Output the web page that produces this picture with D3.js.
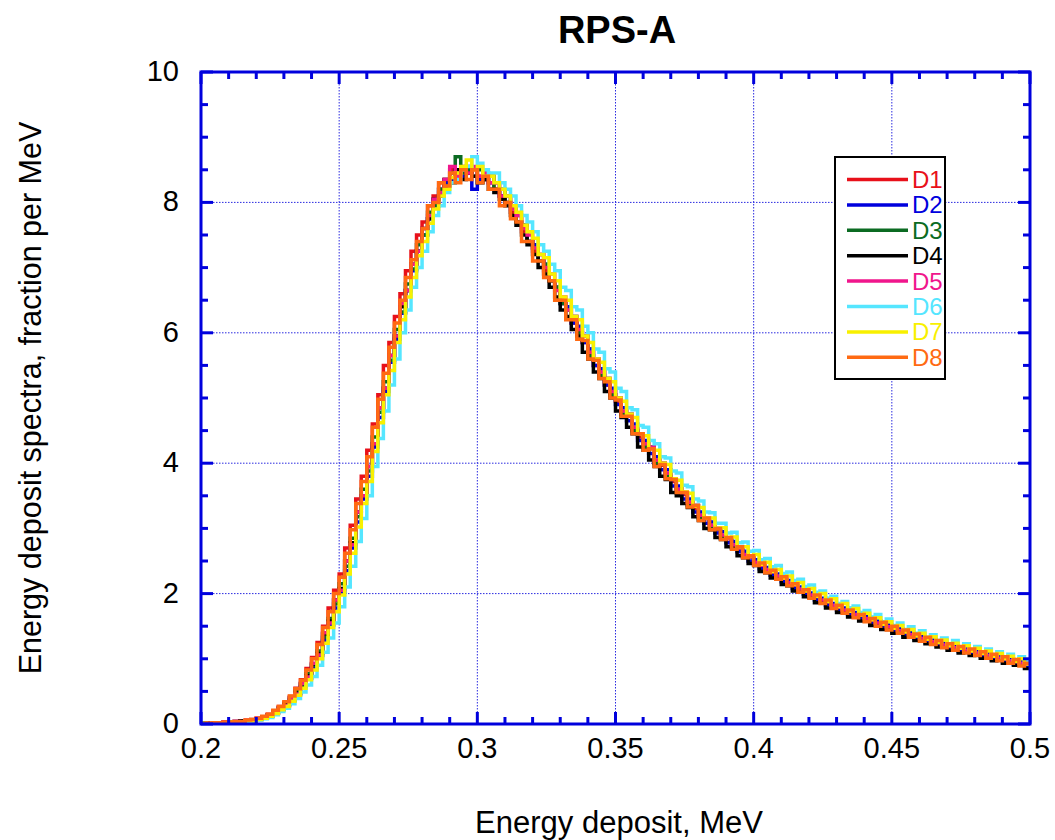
<!DOCTYPE html>
<html>
<head>
<meta charset="utf-8">
<title>RPS-A</title>
<script src="https://cdn.jsdelivr.net/npm/d3@7"></script>
<style>
  body { margin: 0; background: #fff; }
  text { font-family: "Liberation Sans", Arial, sans-serif; }
</style>
</head>
<body>
<script>
// bins of 0.002 MeV, from 0.200 to 0.500 (150 bins per detector)
const binStart = 0.2;
const binWidth = 0.002;

const seriesNames = ["D1", "D2", "D3", "D4", "D5", "D6", "D7", "D8"];
const seriesColors = ["#e8101a", "#0000dd", "#0b6b22", "#000000", "#f0168c", "#55e6ff", "#f8f000", "#ff6a12"];

const D1 = [
  0.00,0.01,0.02,0.02,0.01,0.03,0.04,0.03,0.05,0.07,
  0.09,0.11,0.15,0.20,0.27,0.33,0.42,0.55,0.68,0.85,
  1.02,1.25,1.5,1.78,2.05,2.3,2.7,3.05,3.45,3.8,
  4.2,4.6,5.05,5.5,5.85,6.25,6.6,6.95,7.25,7.5,
  7.7,7.95,8.1,8.3,8.35,8.5,8.4,8.55,8.45,8.5,
  8.4,8.35,8.4,8.2,8.1,8.0,7.85,7.8,7.55,7.4,
  7.25,7.2,6.95,6.8,6.7,6.45,6.4,6.15,6.0,5.85,
  5.75,5.5,5.45,5.2,5.05,4.95,4.75,4.72,4.5,4.4,
  4.25,4.22,4.0,3.97,3.8,3.72,3.55,3.52,3.38,3.3,
  3.18,3.15,3.02,2.98,2.87,2.84,2.72,2.7,2.58,2.56,
  2.46,2.44,2.35,2.33,2.25,2.24,2.15,2.13,2.05,2.04,
  1.96,1.95,1.88,1.87,1.8,1.79,1.73,1.73,1.66,1.66,
  1.6,1.59,1.53,1.53,1.47,1.47,1.41,1.41,1.35,1.35,
  1.3,1.3,1.25,1.25,1.2,1.2,1.16,1.16,1.12,1.12,
  1.08,1.08,1.04,1.04,1.0,1.0,0.96,0.96,0.92,0.92
];
const D2 = [
  0.01,0.00,0.01,0.02,0.03,0.02,0.04,0.04,0.05,0.05,
  0.07,0.10,0.12,0.17,0.22,0.29,0.36,0.45,0.57,0.70,
  0.86,1.05,1.28,1.52,1.78,2.02,2.35,2.7,3.1,3.45,
  3.8,4.25,4.7,5.1,5.55,5.9,6.3,6.65,6.95,7.25,
  7.5,7.75,7.95,8.2,8.3,8.35,8.5,8.4,8.55,8.2,
  8.35,8.45,8.3,8.3,8.1,8.1,7.95,7.7,7.65,7.4,
  7.35,7.1,7.05,6.8,6.7,6.45,6.4,6.15,6.1,5.85,
  5.75,5.5,5.45,5.2,5.15,4.9,4.85,4.65,4.6,4.35,
  4.35,4.15,4.1,3.9,3.9,3.65,3.65,3.45,3.45,3.25,
  3.25,3.08,3.1,2.93,2.95,2.78,2.8,2.64,2.65,2.5,
  2.52,2.38,2.4,2.28,2.3,2.18,2.2,2.08,2.1,1.99,
  2.01,1.9,1.93,1.82,1.85,1.75,1.78,1.68,1.71,1.62,
  1.65,1.55,1.58,1.49,1.52,1.43,1.46,1.37,1.4,1.31,
  1.34,1.26,1.29,1.21,1.24,1.16,1.2,1.12,1.16,1.08,
  1.12,1.04,1.08,1.0,1.04,0.96,1.0,0.92,0.96,0.88
];
const D3 = [
  0.00,0.01,0.01,0.01,0.02,0.03,0.02,0.04,0.05,0.05,
  0.08,0.09,0.13,0.17,0.23,0.31,0.37,0.5,0.6,0.77,
  0.9,1.12,1.33,1.62,1.84,2.15,2.42,2.85,3.18,3.6,
  3.88,4.4,4.78,5.25,5.58,6.05,6.32,6.75,6.98,7.35,
  7.5,7.85,7.95,8.2,8.25,8.45,8.7,8.45,8.5,8.4,
  8.5,8.35,8.4,8.2,8.2,8.0,7.95,7.7,7.65,7.4,
  7.3,7.1,7.05,6.8,6.7,6.45,6.35,6.25,6.0,5.95,
  5.65,5.6,5.35,5.3,5.05,5.0,4.75,4.75,4.5,4.45,
  4.25,4.25,4.0,4.0,3.8,3.75,3.55,3.55,3.35,3.35,
  3.15,3.15,3.0,3.0,2.85,2.85,2.7,2.7,2.56,2.58,
  2.44,2.46,2.33,2.36,2.23,2.26,2.13,2.16,2.04,2.06,
  1.95,1.97,1.87,1.89,1.79,1.81,1.72,1.77,1.65,1.69,
  1.59,1.61,1.52,1.56,1.46,1.49,1.4,1.43,1.34,1.37,
  1.28,1.32,1.23,1.27,1.18,1.22,1.14,1.18,1.1,1.14,
  1.06,1.1,1.02,1.06,0.98,1.02,0.94,0.98,0.9,0.93
];
const D4 = [
  0.01,0.01,0.00,0.02,0.02,0.02,0.03,0.05,0.04,0.06,
  0.08,0.11,0.14,0.18,0.25,0.3,0.4,0.47,0.62,0.74,
  0.92,1.08,1.38,1.58,1.9,2.08,2.5,2.78,3.25,3.5,
  3.95,4.3,4.85,5.15,5.65,5.95,6.4,6.65,7.05,7.25,
  7.6,7.75,8.05,8.1,8.35,8.3,8.5,8.35,8.45,8.4,
  8.3,8.35,8.2,8.15,8.05,7.95,7.8,7.65,7.5,7.35,
  7.2,7.0,6.9,6.7,6.55,6.35,6.25,6.05,5.95,5.7,
  5.6,5.4,5.3,5.1,5.0,4.8,4.7,4.55,4.45,4.25,
  4.2,4.05,3.95,3.8,3.75,3.55,3.5,3.38,3.32,3.18,
  3.12,3.0,2.98,2.86,2.83,2.72,2.69,2.58,2.55,2.46,
  2.43,2.34,2.32,2.24,2.22,2.14,2.12,2.04,2.02,1.95,
  1.94,1.86,1.86,1.78,1.78,1.71,1.71,1.64,1.64,1.58,
  1.58,1.51,1.51,1.45,1.45,1.39,1.4,1.33,1.34,1.28,
  1.28,1.23,1.23,1.18,1.18,1.13,1.14,1.09,1.1,1.05,
  1.06,1.01,1.02,0.97,0.98,0.93,0.94,0.9,0.9,0.85
];
const D5 = [
  0.00,0.01,0.02,0.01,0.03,0.02,0.04,0.03,0.06,0.05,
  0.09,0.09,0.14,0.16,0.25,0.28,0.4,0.46,0.62,0.72,
  0.93,1.06,1.4,1.55,1.9,2.05,2.5,2.75,3.25,3.5,
  3.95,4.3,4.85,5.15,5.65,5.95,6.45,6.65,7.05,7.25,
  7.6,7.8,8.05,8.15,8.35,8.55,8.4,8.5,8.45,8.55,
  8.4,8.45,8.3,8.3,8.1,8.1,7.9,7.8,7.6,7.5,
  7.3,7.2,7.0,6.9,6.65,6.55,6.35,6.25,6.05,5.95,
  5.7,5.6,5.4,5.3,5.1,5.0,4.8,4.75,4.55,4.45,
  4.3,4.25,4.05,4.0,3.85,3.75,3.6,3.55,3.4,3.35,
  3.2,3.15,3.05,3.0,2.9,2.85,2.75,2.7,2.6,2.57,
  2.48,2.44,2.37,2.34,2.27,2.24,2.17,2.14,2.07,2.05,
  1.98,1.96,1.9,1.88,1.82,1.8,1.75,1.74,1.68,1.67,
  1.62,1.6,1.55,1.54,1.49,1.48,1.43,1.42,1.37,1.36,
  1.31,1.3,1.26,1.25,1.21,1.2,1.17,1.16,1.13,1.12,
  1.09,1.08,1.05,1.04,1.01,1.0,0.97,0.96,0.93,0.92
];
const D6 = [
  0.00,0.00,0.01,0.01,0.02,0.02,0.03,0.03,0.04,0.05,
  0.06,0.08,0.10,0.14,0.19,0.24,0.31,0.39,0.49,0.6,
  0.73,0.9,1.1,1.32,1.55,1.8,2.1,2.42,2.8,3.15,
  3.5,3.95,4.38,4.8,5.2,5.6,6.0,6.35,6.7,7.0,
  7.25,7.55,7.8,7.95,8.15,8.3,8.35,8.5,8.55,8.7,
  8.6,8.5,8.45,8.45,8.3,8.2,8.1,7.95,7.8,7.7,
  7.55,7.35,7.25,7.05,6.95,6.7,6.65,6.4,6.35,6.1,
  6.0,5.75,5.7,5.45,5.4,5.15,5.1,4.85,4.82,4.58,
  4.55,4.35,4.3,4.1,4.08,3.88,3.85,3.66,3.64,3.45,
  3.42,3.25,3.24,3.08,3.08,2.93,2.94,2.78,2.79,2.65,
  2.66,2.52,2.54,2.41,2.43,2.31,2.33,2.2,2.22,2.11,
  2.13,2.02,2.04,1.93,1.96,1.85,1.88,1.78,1.81,1.71,
  1.74,1.64,1.68,1.57,1.61,1.51,1.55,1.45,1.49,1.39,
  1.43,1.33,1.37,1.28,1.32,1.23,1.28,1.18,1.23,1.14,
  1.19,1.1,1.15,1.06,1.11,1.02,1.07,0.98,1.03,0.95
];
const D7 = [
  0.01,0.00,0.01,0.02,0.02,0.03,0.03,0.03,0.05,0.05,
  0.07,0.09,0.12,0.16,0.22,0.27,0.35,0.44,0.55,0.68,
  0.83,1.0,1.24,1.48,1.72,1.98,2.3,2.62,3.02,3.38,
  3.72,4.18,4.62,5.05,5.42,5.85,6.2,6.55,6.85,7.18,
  7.4,7.68,7.9,8.1,8.2,8.38,8.45,8.55,8.65,8.5,
  8.55,8.4,8.4,8.3,8.2,8.1,7.95,7.85,7.65,7.55,
  7.45,7.2,7.15,6.9,6.8,6.55,6.5,6.25,6.2,5.95,
  5.85,5.6,5.55,5.3,5.25,5.0,4.95,4.75,4.7,4.45,
  4.42,4.22,4.2,4.0,3.98,3.76,3.74,3.56,3.54,3.34,
  3.32,3.16,3.16,3.0,3.01,2.86,2.87,2.72,2.72,2.58,
  2.6,2.45,2.48,2.34,2.37,2.24,2.27,2.14,2.17,2.04,
  2.08,1.96,2.0,1.88,1.92,1.8,1.85,1.73,1.77,1.67,
  1.7,1.6,1.63,1.53,1.57,1.47,1.51,1.41,1.45,1.35,
  1.39,1.3,1.34,1.25,1.29,1.2,1.24,1.16,1.2,1.12,
  1.16,1.08,1.12,1.04,1.08,1.0,1.04,0.96,1.0,0.92
];
const D8 = [
  0.00,0.01,0.02,0.02,0.03,0.03,0.04,0.04,0.06,0.07,
  0.09,0.12,0.15,0.21,0.27,0.34,0.43,0.54,0.67,0.83,
  1.0,1.22,1.48,1.72,2.0,2.25,2.62,2.98,3.38,3.72,
  4.1,4.55,4.98,5.38,5.78,6.15,6.5,6.85,7.12,7.4,
  7.6,7.95,8.0,8.3,8.25,8.45,8.3,8.5,8.35,8.5,
  8.3,8.4,8.2,8.2,7.95,8.0,7.75,7.7,7.4,7.4,
  7.1,7.1,6.85,6.8,6.5,6.5,6.2,6.2,5.9,5.88,
  5.6,5.58,5.3,5.25,5.0,4.97,4.72,4.72,4.45,4.45,
  4.2,4.22,3.95,3.98,3.76,3.75,3.55,3.55,3.33,3.35,
  3.12,3.16,2.98,3.0,2.83,2.86,2.68,2.72,2.55,2.58,
  2.43,2.47,2.32,2.36,2.22,2.26,2.12,2.15,2.02,2.06,
  1.93,1.98,1.85,1.9,1.77,1.82,1.7,1.75,1.63,1.68,
  1.57,1.62,1.5,1.56,1.44,1.5,1.39,1.44,1.33,1.38,
  1.27,1.33,1.22,1.28,1.17,1.23,1.13,1.19,1.09,1.15,
  1.05,1.11,1.01,1.07,0.97,1.03,0.93,0.99,0.89,0.93
];
const seriesValues = [D1, D2, D3, D4, D5, D6, D7, D8];

const xTicks = [0.2, 0.25, 0.3, 0.35, 0.4, 0.45, 0.5];
const xTickLabels = ["0.2", "0.25", "0.3", "0.35", "0.4", "0.45", "0.5"];
const yTicks = [0, 2, 4, 6, 8, 10];

// size and margins
const w = 1055;
const h = 840;
const pLeft = 201, pRight = 1030, pTop = 72, pBottom = 724;
const frameColor = "#0000dd";

const x = d3.scaleLinear().domain([0.2, 0.5]).range([pLeft, pRight]);
const y = d3.scaleLinear().domain([0, 10]).range([pBottom, pTop]);

const svg = d3.select("body")
  .append("svg")
  .attr("width", w)
  .attr("height", h);

// grid lines (dotted)
svg.append("g")
  .selectAll("line")
  .data(xTicks.slice(1, -1))
  .enter()
  .append("line")
  .attr("x1", d => x(d)).attr("x2", d => x(d))
  .attr("y1", pTop).attr("y2", pBottom)
  .attr("stroke", "#2a2ae0")
  .attr("stroke-width", 1)
  .attr("stroke-dasharray", "1.5,1.5");

svg.append("g")
  .selectAll("line")
  .data(yTicks.slice(1, -1))
  .enter()
  .append("line")
  .attr("x1", pLeft).attr("x2", pRight)
  .attr("y1", d => y(d)).attr("y2", d => y(d))
  .attr("stroke", "#2a2ae0")
  .attr("stroke-width", 1)
  .attr("stroke-dasharray", "1.5,1.5");

// clip for the histograms
svg.append("clipPath").attr("id", "plotclip")
  .append("rect")
  .attr("x", pLeft).attr("y", pTop)
  .attr("width", pRight - pLeft).attr("height", pBottom - pTop);

const stepLine = d3.line()
  .x(d => x(d[0]))
  .y(d => y(d[1]))
  .curve(d3.curveStepAfter);

const plot = svg.append("g").attr("clip-path", "url(#plotclip)");
for (let s = 0; s < seriesValues.length; s++) {
  const vals = seriesValues[s];
  let pts = [];
  for (let i = 0; i < vals.length; i++) {
    pts.push([binStart + i * binWidth, vals[i]]);
  }
  pts.push([binStart + vals.length * binWidth, vals[vals.length - 1]]);
  plot.append("path")
    .attr("d", stepLine(pts))
    .attr("fill", "none")
    .attr("stroke", seriesColors[s])
    .attr("stroke-width", 3.5)
    .attr("stroke-linejoin", "miter");
}

// ticks, drawn inside on all four sides
const xMinor = d3.range(0.2, 0.5001, 0.01);
const yMinor = d3.range(0, 10.001, 0.5);
const ticks = svg.append("g").attr("stroke", frameColor).attr("stroke-width", 3);
for (let v of xMinor) {
  const major = Math.abs(v * 20 - Math.round(v * 20)) < 1e-6;
  const len = major ? 12 : 7;
  ticks.append("line").attr("x1", x(v)).attr("x2", x(v)).attr("y1", pBottom).attr("y2", pBottom - len);
  ticks.append("line").attr("x1", x(v)).attr("x2", x(v)).attr("y1", pTop).attr("y2", pTop + len);
}
for (let v of yMinor) {
  const major = Math.abs(v / 2 - Math.round(v / 2)) < 1e-6;
  const len = major ? 12 : 7;
  ticks.append("line").attr("x1", pLeft).attr("x2", pLeft + len).attr("y1", y(v)).attr("y2", y(v));
  ticks.append("line").attr("x1", pRight).attr("x2", pRight - len).attr("y1", y(v)).attr("y2", y(v));
}

// frame
svg.append("rect")
  .attr("x", pLeft).attr("y", pTop)
  .attr("width", pRight - pLeft).attr("height", pBottom - pTop)
  .attr("fill", "none")
  .attr("stroke", frameColor)
  .attr("stroke-width", 3);

// tick labels
svg.append("g")
  .selectAll("text")
  .data(xTicks)
  .enter()
  .append("text")
  .attr("x", d => x(d))
  .attr("y", 758)
  .attr("text-anchor", "middle")
  .attr("font-size", 29)
  .text((d, i) => xTickLabels[i]);

svg.append("g")
  .selectAll("text")
  .data(yTicks)
  .enter()
  .append("text")
  .attr("x", 179)
  .attr("y", d => y(d) + 9)
  .attr("text-anchor", "end")
  .attr("font-size", 29)
  .text(d => d);

// titles
svg.append("text")
  .attr("x", 617).attr("y", 43)
  .attr("text-anchor", "middle")
  .attr("font-size", 38)
  .attr("font-weight", "bold")
  .text("RPS-A");

svg.append("text")
  .attr("x", 619).attr("y", 833)
  .attr("text-anchor", "middle")
  .attr("font-size", 31)
  .text("Energy deposit, MeV");

svg.append("text")
  .attr("transform", "translate(41,398) rotate(-90)")
  .attr("text-anchor", "middle")
  .attr("font-size", 30.5)
  .text("Energy deposit spectra, fraction per MeV");

// legend
const legend = svg.append("g");
legend.append("rect")
  .attr("x", 835).attr("y", 157)
  .attr("width", 110).attr("height", 222)
  .attr("fill", "#fff")
  .attr("stroke", "#000")
  .attr("stroke-width", 2);

const legendItems = legend.selectAll("g.item")
  .data(seriesNames)
  .enter()
  .append("g")
  .attr("transform", (d, i) => "translate(0," + (179.5 + i * 25.4) + ")");

legendItems.append("line")
  .attr("x1", 847).attr("x2", 908)
  .attr("stroke", (d, i) => seriesColors[i])
  .attr("stroke-width", 3.5);

legendItems.append("text")
  .attr("x", 912).attr("y", 8.5)
  .attr("font-size", 24)
  .attr("fill", (d, i) => seriesColors[i])
  .text(d => d);
</script>
</body>
</html>
